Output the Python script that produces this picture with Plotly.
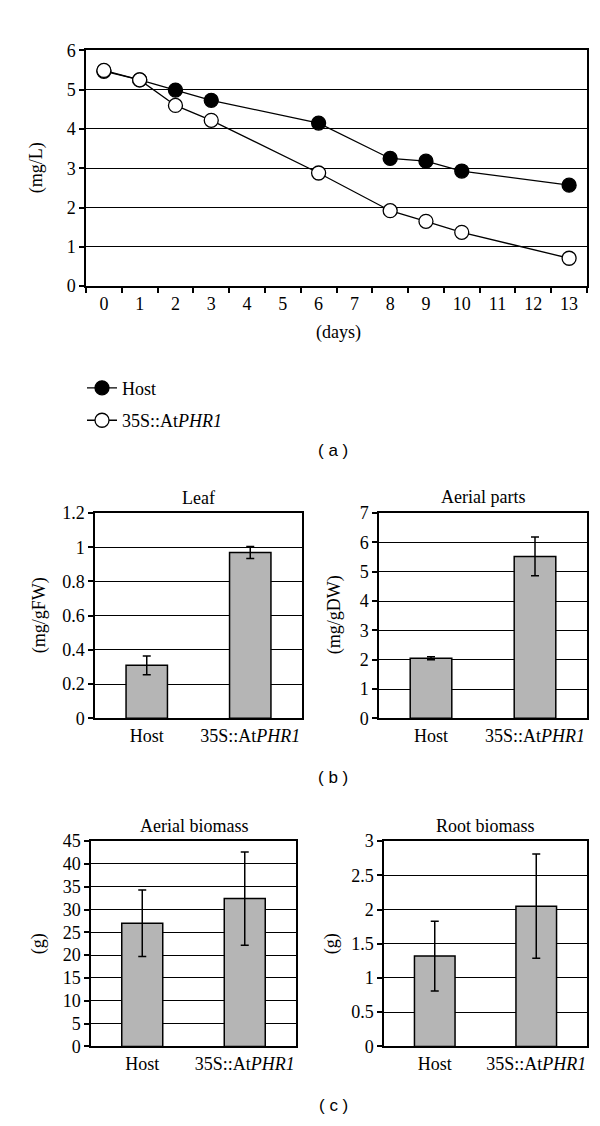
import plotly.graph_objects as go

# ---------------- data ----------------
days = ["0", "1", "2", "3", "4", "5", "6", "7", "8", "9", "10", "11", "12", "13"]
sample_days = ["0", "1", "2", "3", "6", "8", "9", "10", "13"]
host_mgL = [5.47, 5.25, 4.99, 4.73, 4.15, 3.25, 3.18, 2.93, 2.57]
phr1_mgL = [5.49, 5.25, 4.60, 4.22, 2.88, 1.92, 1.65, 1.37, 0.71]

groups = ["Host", "35S::AtPHR1"]
group_labels = ["Host", "35S::At<i>PHR1</i>"]

leaf_vals = [0.31, 0.97]
leaf_err = [0.055, 0.035]
aerial_vals = [2.05, 5.52]
aerial_err = [0.05, 0.66]
aerial_bio_vals = [27.0, 32.4]
aerial_bio_err = [7.3, 10.2]
root_bio_vals = [1.32, 2.05]
root_bio_err = [0.51, 0.76]

# ---------------- style ----------------
W, H = 600, 1126
SERIF = "Liberation Serif"
SANS = "Liberation Sans"
TICKF = dict(family=SERIF, size=18, color="black")
BAR_FILL = "#b5b5b5"


def px_x(p):
    return p / W


def px_y(p):
    return 1 - p / H


fig = go.Figure()

# ---- panel (a): line chart ----
fig.add_trace(go.Scatter(
    x=sample_days, y=host_mgL, mode="lines+markers", name="Host",
    line=dict(color="black", width=1.3),
    marker=dict(symbol="circle", size=14, color="black", line=dict(color="black", width=1.3)),
    xaxis="x", yaxis="y", legendgroup="a1",
))
fig.add_trace(go.Scatter(
    x=sample_days, y=phr1_mgL, mode="lines+markers", name="35S::At<i>PHR1</i>",
    line=dict(color="black", width=1.3),
    marker=dict(symbol="circle", size=14, color="white", line=dict(color="black", width=1.3)),
    xaxis="x", yaxis="y", legendgroup="a2",
))


def bar(vals, errs, ax):
    fig.add_trace(go.Bar(
        x=groups, y=vals, width=0.4, showlegend=False,
        marker=dict(color=BAR_FILL, line=dict(color="black", width=1.5)),
        error_y=dict(type="data", array=errs, visible=True, color="black", thickness=1.5, width=4),
        xaxis="x" + ax, yaxis="y" + ax,
    ))


bar(leaf_vals, leaf_err, "2")
bar(aerial_vals, aerial_err, "3")
bar(aerial_bio_vals, aerial_bio_err, "4")
bar(root_bio_vals, root_bio_err, "5")

common_x = dict(showline=True, linecolor="black", linewidth=1.5, mirror=True,
                showgrid=False, tickfont=TICKF, zeroline=False, fixedrange=True)
common_y = dict(showline=True, linecolor="black", linewidth=1.5, mirror=True,
                showgrid=True, gridcolor="black", gridwidth=1.2, tickfont=TICKF,
                zeroline=False, ticks="outside", ticklen=5, tickcolor="black",
                tickwidth=1.5, fixedrange=True)

layout = dict(
    width=W, height=H,
    margin=dict(l=0, r=0, t=0, b=0),
    paper_bgcolor="white", plot_bgcolor="white",
    font=dict(family=SERIF, color="black", size=18),
    showlegend=True,
    legend=dict(x=px_x(74), y=px_y(358), xanchor="left", yanchor="top",
                font=dict(family=SERIF, size=18, color="black"),
                bgcolor="rgba(0,0,0,0)", tracegroupgap=6, itemwidth=30),
    bargap=0.6,
)

# panel (a) axes
layout["xaxis"] = dict(common_x, domain=[px_x(78), px_x(579)], anchor="y",
                       type="category", categoryorder="array", categoryarray=days,
                       tickmode="array", tickvals=days, ticktext=days,
                       tickson="boundaries", ticks="outside", ticklen=5,
                       tickcolor="black", tickwidth=1.5, range=[-0.5, 13.5])
layout["yaxis"] = dict(common_y, domain=[px_y(273), px_y(33)], anchor="x",
                       range=[0, 6], dtick=1, tick0=0)

# bar panels
panels = [
    ("2", (87, 294), (504, 713), [0, 1.2], 0.2),
    ("3", (371, 579), (504, 713), [0, 7], 1),
    ("4", (83, 288), (838, 1047), [0, 45], 5),
    ("5", (376, 579), (838, 1047), [0, 3], 0.5),
]
for ax, (x0, x1), (y0, y1), rng, dt in panels:
    layout["xaxis" + ax] = dict(common_x, domain=[px_x(x0), px_x(x1)], anchor="y" + ax,
                                type="category", tickmode="array", tickvals=groups,
                                ticktext=group_labels, ticks="", range=[-0.5, 1.5])
    layout["yaxis" + ax] = dict(common_y, domain=[px_y(y1), px_y(y0)], anchor="x" + ax,
                                range=rng, dtick=dt, tick0=0)

fig.update_layout(**layout)

# text annotations
ann = [
    ("(mg/L)", 28, 153, -90, SERIF, 18),
    ("(days)", 330, 320, 0, SERIF, 18),
    ("( a )", 325, 440, 0, SANS, 17),
    ("Leaf", 190, 489, 0, SERIF, 18),
    ("Aerial parts", 475, 488, 0, SERIF, 18),
    ("(mg/gFW)", 31, 608, -90, SERIF, 18),
    ("(mg/gDW)", 326, 608, -90, SERIF, 18),
    ("( b )", 325, 773, 0, SANS, 17),
    ("Aerial biomass", 186, 823, 0, SERIF, 18),
    ("Root biomass", 477, 823, 0, SERIF, 18),
    ("(g)", 30, 943, -90, SERIF, 18),
    ("(g)", 323, 943, -90, SERIF, 18),
    ("( c )", 325, 1107, 0, SANS, 17),
]
for text, x, y, ang, fam, size in ann:
    fig.add_annotation(text=text, x=px_x(x), y=px_y(y), xref="paper", yref="paper",
                       xanchor="center", yanchor="middle", showarrow=False,
                       textangle=ang, font=dict(family=fam, size=size, color="black"))

fig.write_html("out.html")
